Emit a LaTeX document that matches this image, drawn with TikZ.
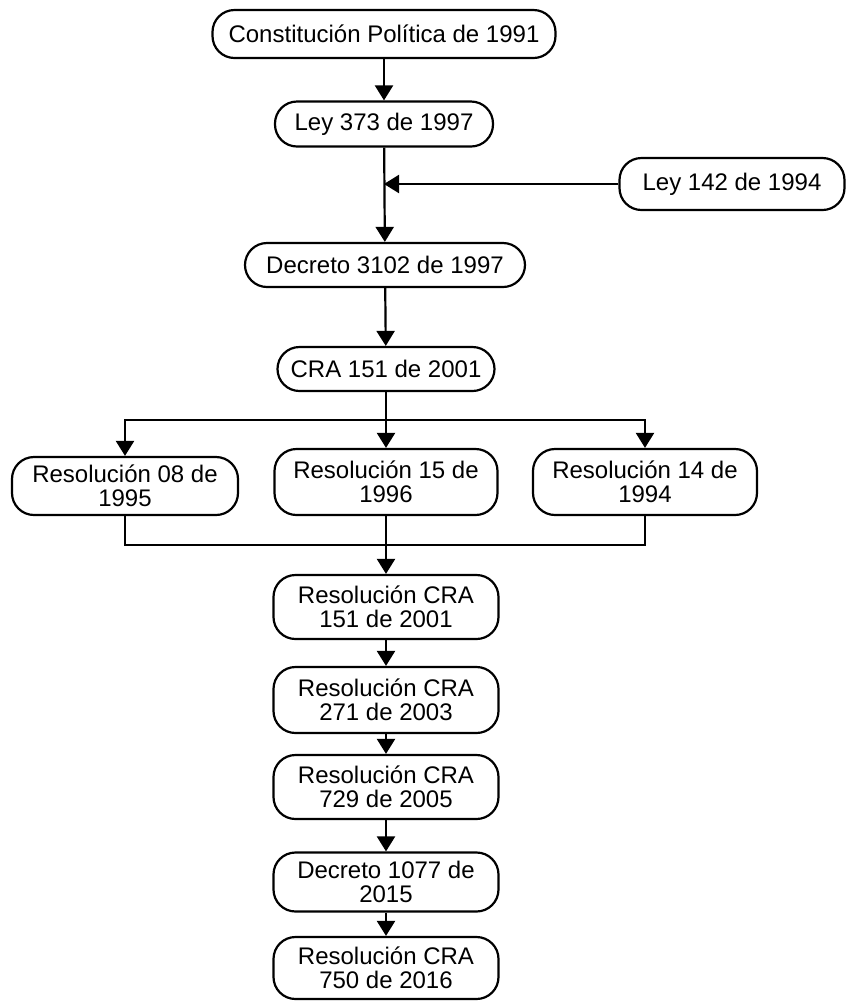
\documentclass[tikz,border=0pt]{standalone}
\usepackage{fontspec}
\setmainfont{Liberation Sans}
\usetikzlibrary{arrows.meta}
\begin{document}
\begin{tikzpicture}[x=0.5pt, y=-0.5pt, line width=1.1pt,
		font=\fontsize{12}{12}\selectfont,
		box/.style={draw, rounded corners=11pt, align=center, inner sep=0pt},
		arr/.style={-{Triangle[length=7.5pt,width=9pt]}}]
		\useasboundingbox (0,0) rectangle (848,1003);

		\node[box, minimum width=171.5pt, minimum height=24pt] (const) at (384, 34) {Constitución Política de 1991};
		\node[box, minimum width=109pt, minimum height=22.5pt] (ley373) at (384, 124) {Ley 373 de 1997};
		\node[box, minimum width=112.5pt, minimum height=26pt] (ley142) at (732, 184) {Ley 142 de 1994};
		\node[box, minimum width=140pt, minimum height=22pt] (dec3102) at (385, 265) {Decreto 3102 de 1997};
		\node[box, minimum width=108.5pt, minimum height=22pt] (cra) at (386, 369) {CRA 151 de 2001};
		\node[box, minimum width=113pt, minimum height=29pt] (res08) at (125, 486) {Resolución 08 de\\1995};
		\node[box, minimum width=111.5pt, minimum height=33pt] (res15) at (386, 482) {Resolución 15 de\\1996};
		\node[box, minimum width=112pt, minimum height=33pt] (res14) at (645, 482) {Resolución 14 de\\1994};
		\node[box, minimum width=112.5pt, minimum height=32pt] (res151) at (386, 607) {Resolución CRA\\151 de 2001};
		\node[box, minimum width=112.5pt, minimum height=33pt] (res271) at (386, 700) {Resolución CRA\\271 de 2003};
		\node[box, minimum width=112.5pt, minimum height=32pt] (res729) at (386, 787) {Resolución CRA\\729 de 2005};
		\node[box, minimum width=112.5pt, minimum height=29.5pt] (dec1077) at (386, 882) {Decreto 1077 de\\2015};
		\node[box, minimum width=112.5pt, minimum height=31pt] (res750) at (386, 968) {Resolución CRA\\750 de 2016};

		% junctions
		\coordinate (join) at (384, 184);
		\coordinate (top) at (386, 420);
		\coordinate (bottom) at (386, 545);

		\path (const) edge[arr] (ley373)
		(ley373) edge[arr] (dec3102)
		(ley142) edge[arr] (join)
		(dec3102) edge[arr] (cra)
		(cra) edge[arr] (res15)
		(top) edge[arr, to path={-| (\tikztotarget)}] (res08)
		(top) edge[arr, to path={-| (\tikztotarget)}] (res14)
		(res08) edge[to path={|- (\tikztotarget)}] (bottom)
		(res14) edge[to path={|- (\tikztotarget)}] (bottom)
		(res15) edge[arr] (res151)
		(res151) edge[arr] (res271)
		(res271) edge[arr] (res729)
		(res729) edge[arr] (dec1077)
		(dec1077) edge[arr] (res750);
	\end{tikzpicture}
\end{document}
